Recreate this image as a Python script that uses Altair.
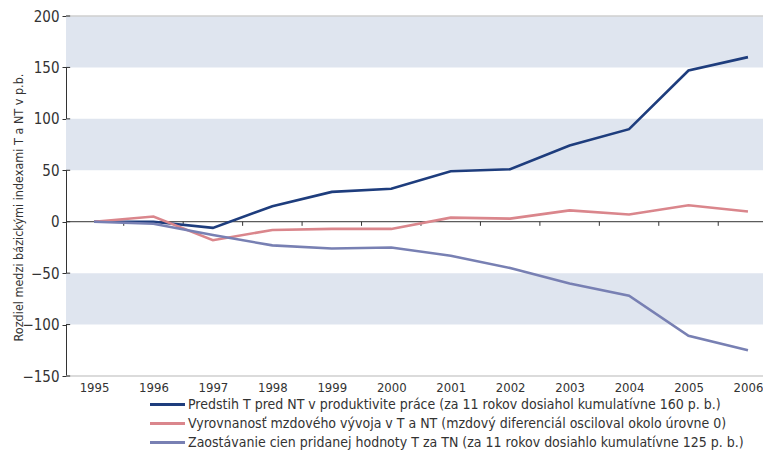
import altair as alt
import pandas as pd

years = list(range(1995, 2007))
predstih = [0, 0, -6, 15, 29, 32, 49, 51, 74, 90, 147, 160]
vyrovnanost = [0, 5, -18, -8, -7, -7, 4, 3, 11, 7, 16, 10]
zaostavanie = [0, -2, -13, -23, -26, -25, -33, -45, -60, -72, -111, -125]

series_names = [
    "Predstih T pred NT v produktivite práce (za 11 rokov dosiahol kumulatívne 160 p. b.)",
    "Vyrovnanosť mzdového vývoja v T a NT (mzdový diferenciál osciloval okolo úrovne 0)",
    "Zaostávanie cien pridanej hodnoty T za TN (za 11 rokov dosiahlo kumulatívne 125 p. b.)",
]
series_colors = ["#1e3d7d", "#da868c", "#7880b3"]

band_low = [150, 50, -100]
band_high = [200, 100, -50]
y_ticks = [-150, -100, -50, 0, 50, 100, 150, 200]
grid_lines = [200, -150]
half_years = [y + 0.5 for y in range(1995, 2006)]

x_min, x_max = 1994.529, 2006.253
FONT = "DejaVu Sans Condensed, sans-serif"

rows = []
for name, vals in zip(series_names, [predstih, vyrovnanost, zaostavanie]):
    for yr, v in zip(years, vals):
        rows.append({"rok": yr, "hodnota": v, "rad": name})
df = pd.DataFrame(rows)

x_scale = alt.Scale(domain=[x_min, x_max], nice=False, zero=False)
y_scale = alt.Scale(domain=[-150, 200], nice=False)

bands = alt.Chart(pd.DataFrame({"lo": band_low, "hi": band_high})).mark_rect(
    color="#dfe5ef"
).encode(
    x=alt.datum(x_min, scale=x_scale),
    x2=alt.datum(x_max),
    y=alt.Y("lo:Q", scale=y_scale),
    y2="hi:Q",
)

grid = alt.Chart(pd.DataFrame({"g": grid_lines})).mark_rule(
    color="#cfcfcf", strokeWidth=1.5
).encode(y=alt.Y("g:Q", scale=y_scale))

zero = alt.Chart(pd.DataFrame({"z": [0]})).mark_rule(
    color="#333333", strokeWidth=1
).encode(y=alt.Y("z:Q", scale=y_scale))

xticks = alt.Chart(pd.DataFrame({"h": half_years})).mark_rule(
    color="#333333", strokeWidth=1
).encode(
    x=alt.X("h:Q", scale=x_scale),
    y=alt.datum(0),
    y2=alt.datum(-4),
)

yticks_in = alt.Chart(pd.DataFrame({"t": y_ticks})).mark_rule(
    color="#333333", strokeWidth=1
).encode(
    x=alt.datum(x_min),
    x2=alt.datum(x_min + 0.07),
    y=alt.Y("t:Q", scale=y_scale),
)

lines = alt.Chart(df).mark_line(strokeWidth=2.6, clip=False).encode(
    x=alt.X(
        "rok:Q",
        scale=x_scale,
        axis=alt.Axis(
            values=years,
            format="d",
            title=None,
            domain=False,
            ticks=False,
            grid=False,
            labelFontSize=13,
            labelColor="#333333",
            labelFont=FONT,
            labelPadding=5,
        ),
    ),
    y=alt.Y(
        "hodnota:Q",
        scale=y_scale,
        axis=alt.Axis(
            values=y_ticks,
            title="Rozdiel medzi bázickými indexami T a NT v p.b.",
            titleFontSize=12.5,
            titleFontWeight="normal",
            titleColor="#333333",
            titleFont=FONT,
            titleX=-41,
            titleY=191,
            domainColor="#333333",
            tickColor="#333333",
            tickSize=4,
            grid=False,
            labelFontSize=15,
            labelColor="#333333",
            labelFont=FONT,
            labelPadding=3,
        ),
    ),
    color=alt.Color(
        "rad:N",
        scale=alt.Scale(domain=series_names, range=series_colors),
        sort=series_names,
        legend=alt.Legend(
            title=None,
            orient="none",
            legendX=91,
            legendY=378,
            symbolType="M-2,0H2",
            symbolSize=306,
            symbolStrokeWidth=3,
            labelFontSize=14,
            labelFont=FONT,
            labelColor="#333333",
            labelLimit=700,
            rowPadding=1,
            labelOffset=10,
        ),
    ),
)

chart = alt.layer(bands, grid, zero, xticks, yticks_in, lines).properties(
    width=697,
    height=360,
    autosize=alt.AutoSizeParams(type="none"),
    padding={"left": 58, "top": 8, "right": 0, "bottom": 74},
).configure_view(stroke=None)

chart.save("out.html", embed_options={"renderer": "svg", "actions": False})
